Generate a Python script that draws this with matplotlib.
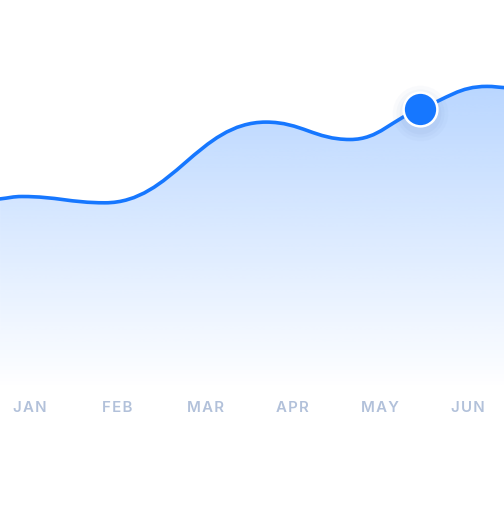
import numpy as np
import matplotlib.pyplot as plt
from matplotlib.path import Path
from matplotlib.patches import PathPatch

# month labels along the bottom
months = ['JAN', 'FEB', 'MAR', 'APR', 'MAY', 'JUN']

# curve points (x in month index, y in value units)
pts_x = [-0.342, -0.091, 0.856, 2.694, 3.653, 4.452, 5.217, 5.411]
pts_y = [63.7, 64.5, 62.4, 89.3, 83.5, 93.7, 101.2, 100.8]

# highlighted point
hl_x = 4.452
hl_y = 93.7

line_color = '#1677FF'
label_color = '#B2C1DA'
handle = 0.42   # bezier handle length as a share of the segment width


def pchip_slopes(x, y):
    x = np.asarray(x, float)
    y = np.asarray(y, float)
    h = np.diff(x)
    d = np.diff(y) / h
    m = np.zeros_like(y)
    for k in range(1, len(x) - 1):
        if d[k - 1] * d[k] <= 0:
            m[k] = 0.0
        else:
            w1 = 2 * h[k] + h[k - 1]
            w2 = h[k] + 2 * h[k - 1]
            m[k] = (w1 + w2) / (w1 / d[k - 1] + w2 / d[k])
    m[0] = d[0]
    m[-1] = d[-1]
    return m


def curve_path(x, y, base=None):
    m = pchip_slopes(x, y)
    verts = [(x[0], y[0])]
    codes = [Path.MOVETO]
    for i in range(len(x) - 1):
        h = (x[i + 1] - x[i]) * handle
        verts += [(x[i] + h, y[i] + m[i] * h),
                  (x[i + 1] - h, y[i + 1] - m[i + 1] * h),
                  (x[i + 1], y[i + 1])]
        codes += [Path.CURVE4] * 3
    if base is not None:
        verts += [(x[-1], base), (x[0], base), (x[0], y[0])]
        codes += [Path.LINETO, Path.LINETO, Path.CLOSEPOLY]
    return Path(verts, codes)


fig = plt.figure(figsize=(5.04, 5.32), dpi=100)
ax = fig.add_axes([0, 0, 1, 1])
ax.set_xlim(-30 / 87.6, (504 - 30) / 87.6)
ax.set_ylim(-47.33, 130)
ax.axis('off')

# gradient fill under the curve
top = max(pts_y)
fill = PathPatch(curve_path(pts_x, pts_y, base=0), facecolor='none', edgecolor='none')
ax.add_patch(fill)
grad = np.zeros((256, 1, 4))
grad[:, 0, 0] = 22 / 255
grad[:, 0, 1] = 119 / 255
grad[:, 0, 2] = 1.0
grad[:, 0, 3] = np.linspace(0.3, 0.0, 256)
img = ax.imshow(grad, extent=[pts_x[0], pts_x[-1], 0, top], origin='upper',
                aspect='auto', interpolation='bicubic', zorder=1)
img.set_clip_path(fill)

# the line itself
ax.add_patch(PathPatch(curve_path(pts_x, pts_y), facecolor='none',
                       edgecolor=line_color, lw=2.6, zorder=3,
                       capstyle='round'))

# soft shadow + marker
for s, a in [(1600, 0.03), (1200, 0.04), (900, 0.05)]:
    ax.scatter([hl_x], [hl_y - 1.2], s=s, color='#5a7bb8', alpha=a,
               linewidths=0, zorder=4)
ax.plot([hl_x], [hl_y], 'o', ms=24.3, color=line_color, mec='white',
        mew=1.8, zorder=5)

for i, m in enumerate(months):
    spaced = '\u200a'.join(m)
    ax.text(i, -6.0, spaced, ha='center', va='center', fontsize=10.8,
            family=['Inter', 'DejaVu Sans'], fontweight='semibold',
            color=label_color)

fig.savefig('out.png', dpi=100)
